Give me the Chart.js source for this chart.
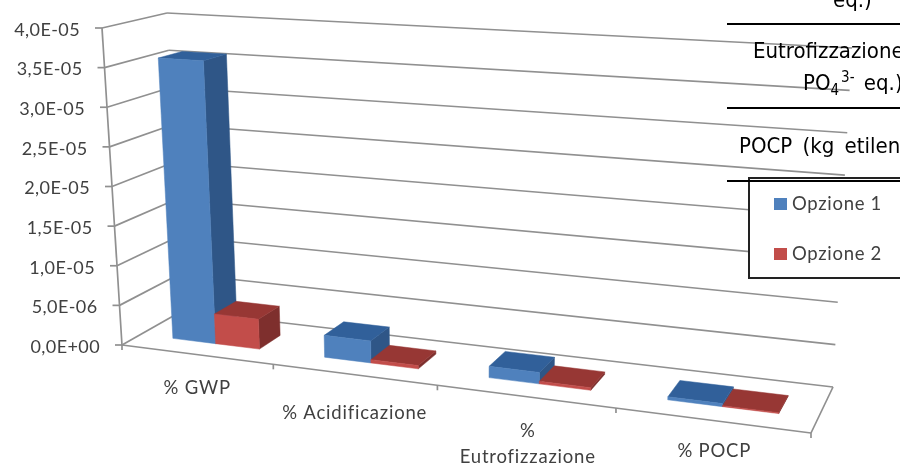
<!DOCTYPE html>
<html lang="it">
<head>
<meta charset="utf-8">
<title>Opzione 1 e Opzione 2</title>
<script src="https://cdn.jsdelivr.net/npm/chart.js@4"></script>
<style>
  html, body { margin: 0; padding: 0; background: #fff; overflow: hidden; }
  #page { position: relative; width: 900px; height: 466px; overflow: hidden; }
  canvas { position: absolute; left: 0; top: 0; }
  .rule { position: absolute; left: 727px; right: 0; height: 2px; background: #000; }
  .cell { position: absolute; white-space: nowrap; color: #000; line-height: 1;
          font-family: "DejaVu Sans Condensed", "DejaVu Sans", sans-serif; font-stretch: condensed; font-size: 22px; }
  .cell sub, .cell sup { font-size: 15px; line-height: 0; }
  .cell sup { margin-left: 2px; margin-right: 3px; }
</style>
</head>
<body>
<div id="page">
  <canvas id="chart" width="900" height="466"></canvas>
  <div class="cell" style="left:833px; top:-11px">eq.)</div>
  <div class="rule" style="top:23px"></div>
  <div class="cell" style="left:753px; top:40px">Eutrofizzazione</div>
  <div class="cell" style="left:803px; top:72px">PO<sub>4</sub><sup>3-</sup>&nbsp;eq.)</div>
  <div class="rule" style="top:107px"></div>
  <div class="cell" style="left:739px; top:135px; word-spacing:4px">POCP (kg etilene</div>
  <div class="rule" style="top:180px"></div>
</div>
<script>
const categories = ['% GWP', '% Acidificazione', ['%', 'Eutrofizzazione'], '% POCP'];
const opzione1 = [3.58e-5, 2.7e-6, 1.35e-6, 3.5e-7];
const opzione2 = [3.75e-6, 4e-7, 3e-7, 1e-7];
const seriesNames = ['Opzione 1', 'Opzione 2'];
const axisMax = 4e-5;
const axisStep = 5e-6;

// Corners of the perspective box: [bottom, top] of each vertical edge.
const box = {
  frontLeft:  [[122, 345], [102, 28]],
  frontRight: [[811, 433], [831, 68.5]],
  backRight:  [[833, 387], [852, 48]],
  backLeft:   [[182, 311], [167, 13]]
};
const depthFront = 0.30, depthBack = 0.68;
const uShift = 0.003;
const categoryLabelLayout = [
  { dx: 1, dy: 34 },
  { dx: 1, dy: 38 },
  { dx: 3, dy: 35 },
  { dx: 3, dy: 31 }
];
const faces = [
  { front: '#4f81bd', side: '#2f5687', top: '#31609a' },
  { front: '#c24d4a', side: '#7e2f2d', top: '#973734' }
];
const gridColor = '#909090';
const textColor = '#404040';

const mix = (a, b, t) => [a[0] + (b[0] - a[0]) * t, a[1] + (b[1] - a[1]) * t];

// Maps (u along the width, h up the value axis, z into the depth) onto the canvas.
function project(u, h, z) {
  const c = ['frontLeft', 'frontRight', 'backRight', 'backLeft'].map(k => mix(box[k][0], box[k][1], h));
  const [x0, y0] = c[0], [x1, y1] = c[1], [x2, y2] = c[2], [x3, y3] = c[3];
  const dx1 = x1 - x2, dx2 = x3 - x2, sx = x0 - x1 + x2 - x3;
  const dy1 = y1 - y2, dy2 = y3 - y2, sy = y0 - y1 + y2 - y3;
  const det = dx1 * dy2 - dx2 * dy1;
  const g = (sx * dy2 - dx2 * sy) / det, k = (dx1 * sy - sx * dy1) / det;
  const w = g * u + k * z + 1;
  return [
    ((x1 - x0 + g * x1) * u + (x3 - x0 + k * x3) * z + x0) / w,
    ((y1 - y0 + g * y1) * u + (y3 - y0 + k * y3) * z + y0) / w
  ];
}

function polygon(ctx, pts, fill) {
  ctx.beginPath();
  pts.forEach((p, i) => i ? ctx.lineTo(p[0], p[1]) : ctx.moveTo(p[0], p[1]));
  ctx.closePath();
  ctx.fillStyle = fill;
  ctx.fill();
  ctx.strokeStyle = fill;
  ctx.lineWidth = 0.5;
  ctx.stroke();
}

function segment(ctx, a, b) {
  ctx.beginPath();
  ctx.moveTo(a[0], a[1]);
  ctx.lineTo(b[0], b[1]);
  ctx.stroke();
}

const perspectiveBars = {
  id: 'perspectiveBars',
  // Replaces the flat bars with the walls, the axes and the solid columns.
  beforeDatasetsDraw(chart) {
    const { ctx, scales: { x, y } } = chart;
    const frac = v => (y.bottom - y.getPixelForValue(v)) / y.height;

    ctx.save();
    ctx.strokeStyle = gridColor;
    ctx.lineWidth = 1.7;
    ctx.font = '18px Lato, sans-serif';
    ctx.letterSpacing = '0.4px';
    y.ticks.forEach(tick => {
      const h = frac(tick.value);
      const front = project(0, h, 0), corner = project(0, h, 1), end = project(1, h, 1);
      segment(ctx, front, corner);
      segment(ctx, corner, end);
      segment(ctx, [front[0] - 7, front[1]], front);
      ctx.fillStyle = textColor;
      ctx.textAlign = 'right';
      ctx.textBaseline = 'middle';
      ctx.fillText(tick.label, front[0] - 22, front[1] + 2);
    });
    segment(ctx, project(0, 0, 0), project(0, 1, 0));
    segment(ctx, project(0, 0, 0), project(1, 0, 0));
    segment(ctx, project(1, 0, 0), project(1, 0, 1));

    const n = categories.length;
    for (let i = 0; i <= n; i++) {
      const p = project(i / n, 0, 0);
      segment(ctx, p, [p[0], p[1] + 5]);
    }
    ctx.textAlign = 'center';
    ctx.font = '18.5px Lato, sans-serif';
    ctx.letterSpacing = '0.8px';
    categories.forEach((label, i) => {
      const p = project((i + 0.5) / n, 0, 0);
      const spot = categoryLabelLayout[i];
      [].concat(label).forEach((line, j) => {
        ctx.fillStyle = textColor;
        ctx.fillText(line, p[0] + spot.dx, p[1] + spot.dy + j * 26);
      });
    });
    ctx.letterSpacing = '0px';

    // Columns run left to right so each one covers the side of its neighbour.
    categories.forEach((_, i) => {
      chart.data.datasets.forEach((ds, d) => {
        const bar = chart.getDatasetMeta(d).data[i];
        const u0 = (bar.x - bar.width / 2 - x.left) / x.width + uShift;
        const u1 = (bar.x + bar.width / 2 - x.left) / x.width + uShift;
        const h = frac(ds.data[i]);
        const col = faces[d];
        polygon(ctx, [project(u1, 0, depthFront), project(u1, 0, depthBack), project(u1, h, depthBack), project(u1, h, depthFront)], col.side);
        polygon(ctx, [project(u0, h, depthFront), project(u1, h, depthFront), project(u1, h, depthBack), project(u0, h, depthBack)], col.top);
        polygon(ctx, [project(u0, 0, depthFront), project(u1, 0, depthFront), project(u1, h, depthFront), project(u0, h, depthFront)], col.front);
      });
    });

    // Legend box with a heavy dark outline, running off the right side.
    ctx.fillStyle = '#fff';
    ctx.fillRect(749, 178, 160, 100);
    ctx.strokeStyle = '#222';
    ctx.lineWidth = 2;
    ctx.strokeRect(749, 178, 160, 100);
    ctx.font = '18.5px Lato, sans-serif';
    ctx.letterSpacing = '0.7px';
    ctx.textAlign = 'left';
    chart.data.datasets.forEach((ds, d) => {
      const cy = 204 + d * 50;
      ctx.fillStyle = faces[d].front;
      ctx.fillRect(774, cy - 6, 13, 12);
      ctx.fillStyle = textColor;
      ctx.fillText(ds.label, 792, cy);
    });
    ctx.restore();
    return false;
  }
};

new Chart(document.getElementById('chart'), {
  type: 'bar',
  data: {
    labels: categories,
    datasets: [
      { label: seriesNames[0], data: opzione1, backgroundColor: faces[0].front },
      { label: seriesNames[1], data: opzione2, backgroundColor: faces[1].front }
    ]
  },
  options: {
    responsive: false,
    animation: false,
    layout: { padding: 0 },
    categoryPercentage: 0.58,
    barPercentage: 1,
    plugins: { legend: { display: false }, tooltip: { enabled: false } },
    scales: {
      x: { display: false },
      y: {
        display: false,
        min: 0,
        max: axisMax,
        ticks: {
          stepSize: axisStep,
          callback(v) {
            const [m, e] = Number(v).toExponential(1).split('e');
            const sign = e[0] === '-' ? '-' : '+';
            return m.replace('.', ',') + 'E' + sign + e.slice(1).padStart(2, '0');
          }
        }
      }
    }
  },
  plugins: [perspectiveBars]
});
</script>
</body>
</html>
